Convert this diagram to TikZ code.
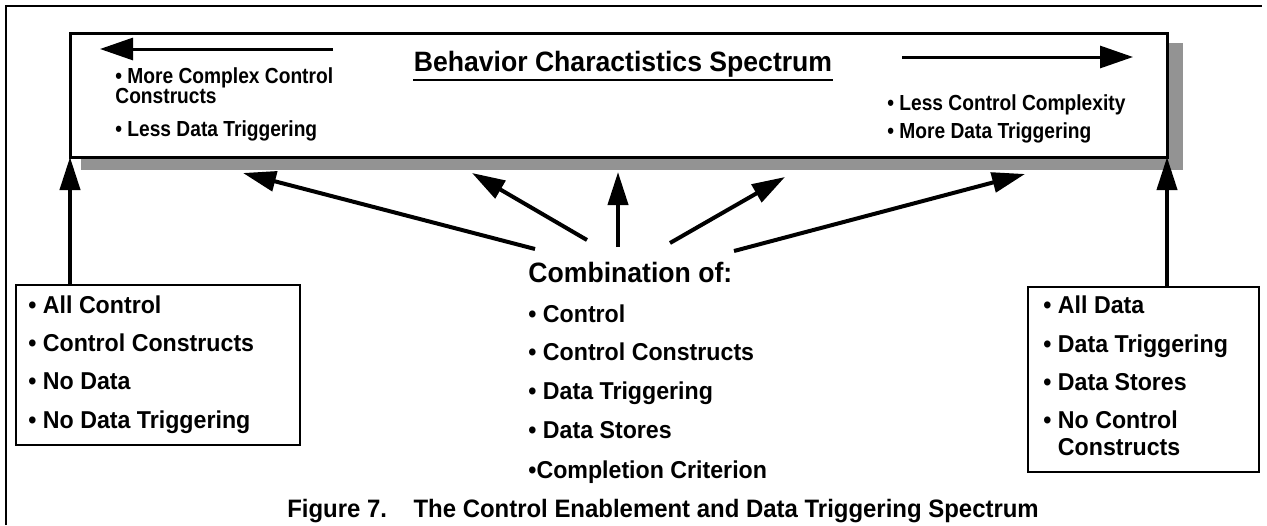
\documentclass[tikz,border=0pt]{standalone}
\usepackage{fontspec}
\setmainfont{Liberation Sans}
\newfontfamily\narrowfont{Liberation Sans}[FakeStretch=0.88]
\newfontfamily\itemfont{Liberation Sans}[FakeStretch=0.95]
\usepackage{xcolor}
\usetikzlibrary{arrows.meta}

\definecolor{shadowgray}{RGB}{147,147,147}

\tikzset{
  frame line/.style={line width=1pt},
  spec box/.style={draw, line width=1.5pt, fill=white, outer sep=0pt, inner sep=0pt, anchor=north west},
  list box/.style={draw, line width=0.7pt, outer sep=0pt, inner sep=0pt, anchor=north west},
  spec arrow/.style={line width=2pt, -{Triangle[length=16.5pt,width=10pt]}},
  dir arrow/.style={line width=1.5pt, -{Triangle[length=16.5pt,width=11pt]}},
  note/.style={anchor=base west, inner sep=0pt, font=\narrowfont\bfseries\fontsize{10.9}{12}\selectfont},
  item/.style={anchor=base west, inner sep=0pt, font=\itemfont\bfseries\fontsize{12.2}{14}\selectfont},
}

\begin{document}
\begin{tikzpicture}[x=0.5pt,y=0.5pt,yscale=-1,xscale=1]
\useasboundingbox (0,0) rectangle (1267,525);

%Shape: Frame
\draw[frame line] (6,525) -- (6,6) -- (1262,6) ;

%Shape: Rectangle [shadow]
\node[fill=shadowgray, anchor=north west, outer sep=0pt, inner sep=0pt, minimum width=551pt, minimum height=63.5pt] (shadow) at (81,43) {};
%Shape: Rectangle [spectrum]
\node[spec box, minimum width=548.5pt, minimum height=62pt] (spec) at (70,33) {};

%Straight Lines [direction arrows]
\coordinate (lessfrom) at (333,49);
\coordinate (lessto) at (100,49);
\coordinate (morefrom) at (902,57);
\coordinate (moreto) at (1133,57);
\draw[dir arrow] (lessfrom) -- (lessto) ;
\draw[dir arrow] (morefrom) -- (moreto) ;

% Text Node
\node[anchor=base, inner sep=0pt, font=\itemfont\bfseries\fontsize{14}{16}\selectfont] (title) at (623,71) {Behavior Charactistics Spectrum};
\draw[line width=1.2pt] ([shift={(0,9)}]title.base west) -- ([shift={(0,9)}]title.base east) ;
% Text Node
\node[note] (cplx1) at (115,83) {• More Complex Control};
\node[note] (cplx2) at (115,103) {Constructs};
\node[note] (lessdata) at (115,136) {• Less Data Triggering};
% Text Node
\node[note] (lessctl) at (887,110) {• Less Control Complexity};
\node[note] (moredata) at (887,138) {• More Data Triggering};

%Shape: Rectangle [all control]
\node[list box, minimum width=142pt, minimum height=80pt] (ctrlbox) at (16,285) {};
\node[item] (allctl) at (28,313) {• All Control};
\node[item] (ctlcons) at (28,351) {• Control Constructs};
\node[item] (nodata) at (28,389) {• No Data};
\node[item] (notrig) at (28,428) {• No Data Triggering};

%Shape: Rectangle [all data]
\node[list box, minimum width=115.5pt, minimum height=92.5pt] (databox) at (1028,287) {};
\node[item] (alldata) at (1043,313) {• All Data};
\node[item] (datatrig) at (1043,352) {• Data Triggering};
\node[item] (datastore) at (1043,390) {• Data Stores};
\node[item] (noctl1) at (1043,428) {• No Control};
\node[item] (noctl2) at (1043,455) {\hphantom{• }Constructs};

% Text Node
\node[anchor=base west, inner sep=0pt, font=\itemfont\bfseries\fontsize{14}{16}\selectfont] (combo) at (528,282) {Combination of:};
\node[item] (cctl) at (528,322) {• Control};
\node[item] (ccons) at (528,360) {• Control Constructs};
\node[item] (ctrig) at (528,399) {• Data Triggering};
\node[item] (cstore) at (528,438) {• Data Stores};
\node[item] (ccrit) at (528,478) {•Completion Criterion};

%Straight Lines [side arrows]
\draw[spec arrow] (ctrlbox.north -| spec.south west) -- (spec.south west) ;
\draw[spec arrow] (databox.north -| spec.south east) -- (spec.south east) ;

%Straight Lines [combination arrows]
\coordinate (src1) at (535,249);
\coordinate (src2) at (587,240);
\coordinate (src3) at (618,247);
\coordinate (src4) at (670,243);
\coordinate (src5) at (734,251);
\coordinate (dst1) at (243,173);
\coordinate (dst2) at (472,173);
\coordinate (dst3) at (618,172);
\coordinate (dst4) at (785,177);
\coordinate (dst5) at (1025,174);
\draw[spec arrow] (src1) -- (dst1) ;
\draw[spec arrow] (src2) -- (dst2) ;
\draw[spec arrow] (src3) -- (dst3) ;
\draw[spec arrow] (src4) -- (dst4) ;
\draw[spec arrow] (src5) -- (dst5) ;

% Text Node
\node[anchor=base, inner sep=0pt, font=\itemfont\bfseries\fontsize{12.6}{14}\selectfont] (caption) at (663,517) {Figure 7.\hspace{0.7em} The Control Enablement and Data Triggering Spectrum};

\end{tikzpicture}
\end{document}
